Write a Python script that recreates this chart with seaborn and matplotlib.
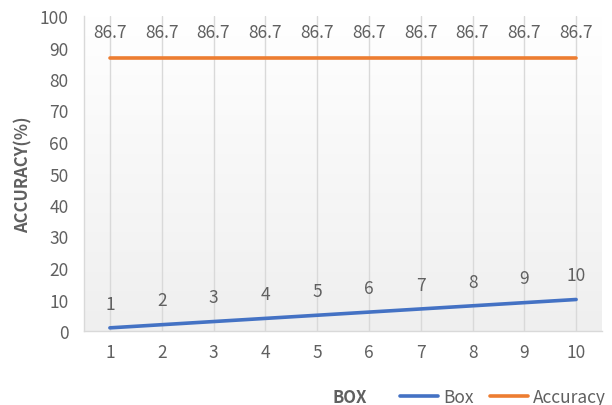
import numpy as np
import pandas as pd
import matplotlib
matplotlib.use("Agg")
import matplotlib.pyplot as plt
import seaborn as sns

boxes = [1, 2, 3, 4, 5, 6, 7, 8, 9, 10]
box_values = [1, 2, 3, 4, 5, 6, 7, 8, 9, 10]
accuracy_values = [86.7, 86.7, 86.7, 86.7, 86.7, 86.7, 86.7, 86.7, 86.7, 86.7]
series_names = ["Box", "Accuracy"]
series_colors = ["#4472C4", "#ED7D31"]
y_ticks = [0, 10, 20, 30, 40, 50, 60, 70, 80, 90, 100]

sns.set_theme(style="white")
plt.rcParams["font.family"] = ["Noto Sans CJK SC", "DejaVu Sans"]

df = pd.DataFrame({
    "BOX": boxes * 2,
    "value": box_values + accuracy_values,
    "series": [series_names[0]] * len(boxes) + [series_names[1]] * len(boxes),
})

text_color = "#606060"
grid_color = "#D9D9D9"
fs = 12.5

fig = plt.figure(figsize=(6.12, 4.06), dpi=100)
ax = fig.add_axes([84 / 612, 1 - 332 / 406, 518 / 612, 315 / 406])

# soft vertical gradient behind the plot area: white on top, light grey at the bottom
grad = np.linspace(1, 0, 256).reshape(-1, 1)
cmap = matplotlib.colors.LinearSegmentedColormap.from_list("bg", ["#FFFFFF", "#EFEFEF"])
ax.imshow(grad, extent=[0.5, 10.5, 0, 100], origin="lower", aspect="auto", cmap=cmap, zorder=0)

sns.lineplot(data=df, x="BOX", y="value", hue="series", palette=series_colors,
             linewidth=2.6, ax=ax, legend=False, zorder=3)

ax.set_xlim(0.5, 10.5)
ax.set_ylim(0, 100)
ax.set_xticks(boxes)
ax.set_xticklabels([str(b) for b in boxes])
ax.set_yticks(y_ticks)
ax.set_yticklabels([str(t) for t in y_ticks])
ax.tick_params(axis="both", colors=text_color, labelsize=fs, length=0)
ax.tick_params(axis="x", pad=9)
ax.tick_params(axis="y", pad=11)

for x in boxes:
    ax.axvline(x, color=grid_color, linewidth=1, zorder=1)

for side in ["top", "right"]:
    ax.spines[side].set_visible(False)
for side in ["left", "bottom"]:
    ax.spines[side].set_color(grid_color)
    ax.spines[side].set_linewidth(1)

# value labels
for x, v in zip(boxes, box_values):
    ax.annotate(f"{v}", (x, v), xytext=(0, 11), textcoords="offset points",
                ha="center", va="bottom", color=text_color, fontsize=fs)
for x, v in zip(boxes, accuracy_values):
    ax.annotate(f"{v}", (x, v), xytext=(0, 12), textcoords="offset points",
                ha="center", va="bottom", color=text_color, fontsize=fs,
                annotation_clip=False)

ax.set_xlabel("")
ax.set_ylabel("ACCURACY(％)", fontsize=12, fontweight="bold", color=text_color, labelpad=5)
fig.text(350 / 612, 1 - 398 / 406, "BOX", ha="center", va="center",
         fontsize=12, fontweight="bold", color=text_color)

handles = [matplotlib.lines.Line2D([], [], color=c, linewidth=2.6) for c in series_colors]
fig.legend(handles, series_names, loc="center left", bbox_to_anchor=(400 / 612, 1 - 398 / 406),
           ncol=2, frameon=False, fontsize=fs, handlelength=2.2, handletextpad=0.3,
           columnspacing=0.9, labelcolor=text_color, borderaxespad=0, borderpad=0)

fig.savefig("out.png", dpi=100)
